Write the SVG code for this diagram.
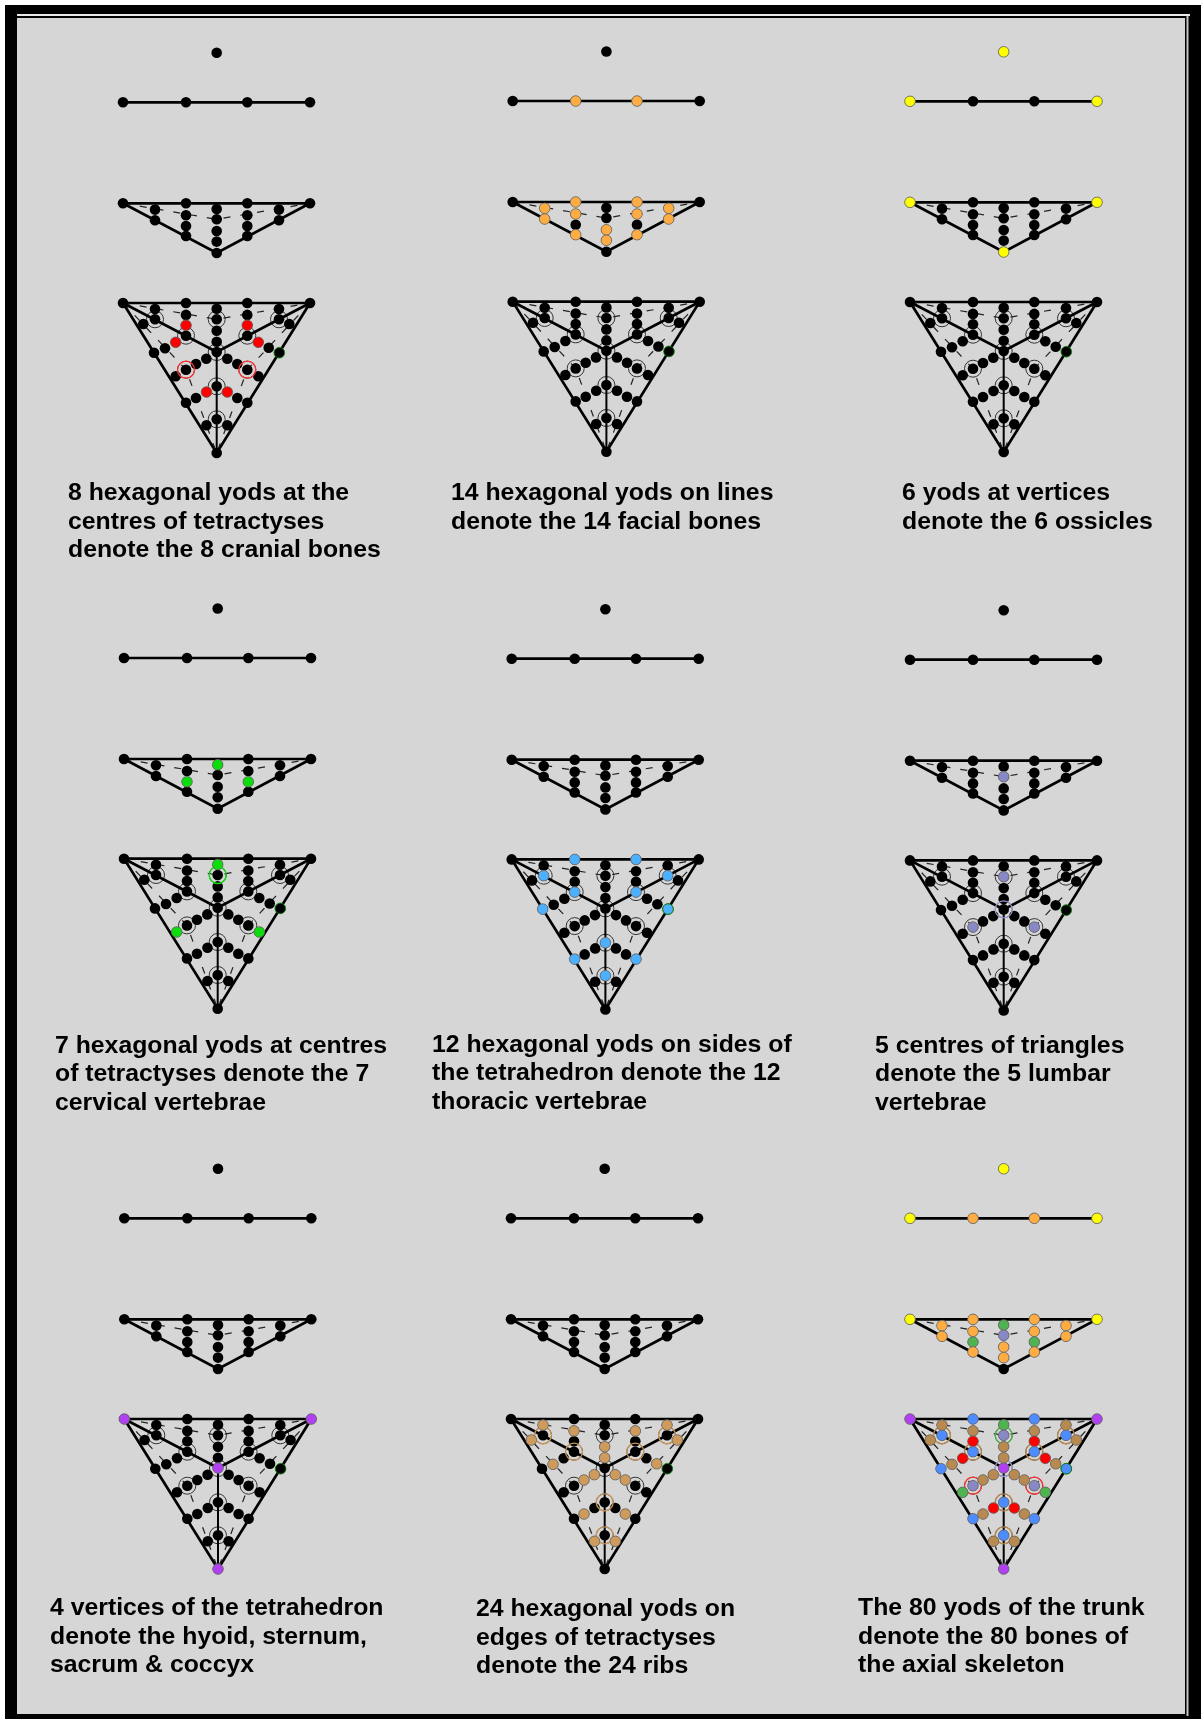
<svg xmlns="http://www.w3.org/2000/svg" width="1201" height="1719" viewBox="0 0 1201 1719">
<style>
.t{font:bold 24.8px "Liberation Sans",Arial,sans-serif;fill:#000}
.sol{fill:none;stroke:#000;stroke-width:2.7}
.thin{fill:none;stroke:#000;stroke-width:2}
.dash{fill:none;stroke:#222;stroke-width:1.2;stroke-dasharray:7 10}
#yods circle{r:5.3px}
#rings circle{r:8.5px}
.c{stroke:#6d6d6d;stroke-width:.8}
.r{fill:#f00}.o{fill:#ffad42}.y{fill:#ff0}.g{fill:#0cdc0c}.g2{fill:#4fb34f}.b{fill:#4db0ff}.b2{fill:#4d8cff}.s{fill:#8888c4}.p{fill:#b040f0}.tn{fill:#cf9b5b}.br{fill:#b98a50}
.rr,.rg,.rg2,.rt,.rb,.rs{fill:none;stroke-width:1.3}
.rr{stroke:#f33}.rg{stroke:#0cdc0c}.rg2{stroke:#4fb34f}.rt{stroke:#c8965a}.rb{stroke:#b98a50}.rs{stroke:#9a9ad0}
</style>
<defs>
<filter id="soft" x="-5%" y="-5%" width="110%" height="110%"><feGaussianBlur stdDeviation="0.45"/></filter>
<g id="connectors">
<path class="sol" d="M0 0H187M0 101H187L93.7 150.7Z"/>
<path class="sol" d="M0 200.7H187L93.7 350.7Z"/>
<path class="sol" d="M0 200.7L93.7 249.7L187 200.7"/>
<path class="thin" d="M93.7 249.7V350.7"/>
<path class="dash" d="M0 101L93.7 117L187 101M0 200.7L93.7 217L187 200.7M0 200.7L63 267.4L93.7 350.7M187 200.7L124.3 267.4L93.7 350.7"/>
</g>
<g id="rings" fill="none" stroke="#333" stroke-width="1">
<circle id="rB1" cx="32" cy="217"/><circle id="rB2" cx="93.7" cy="217"/><circle id="rB3" cx="156" cy="217"/>
<circle id="rF1" cx="63" cy="233.4"/><circle id="rF2" cx="124.3" cy="233.4"/>
<circle id="rK" cx="93.7" cy="249.7"/>
<circle id="rN1" cx="63" cy="267.4"/><circle id="rN2" cx="124.3" cy="267.4"/>
<circle id="rP" cx="93.7" cy="284"/><circle id="rU" cx="93.7" cy="317"/>
</g>
<g id="yods" fill="#000">
<circle id="a" cx="93.7" cy="-49.5"/>
<circle id="l0" cx="0" cy="0"/><circle id="l1" cx="63" cy="0"/><circle id="l2" cx="124.3" cy="0"/><circle id="l3" cx="187" cy="0"/>
<circle id="m0" cx="0" cy="101"/><circle id="m1" cx="63" cy="101"/><circle id="m2" cx="124.3" cy="101"/><circle id="m3" cx="187" cy="101"/>
<circle id="m4" cx="32" cy="107.3"/><circle id="m5" cx="32" cy="118"/>
<circle id="m6" cx="63" cy="113"/><circle id="m7" cx="63" cy="123.7"/><circle id="m8" cx="63" cy="133.7"/>
<circle id="m9" cx="93.7" cy="106.7"/><circle id="m10" cx="93.7" cy="117"/><circle id="m11" cx="93.7" cy="128.7"/><circle id="m12" cx="93.7" cy="139.3"/><circle id="m13" cx="93.7" cy="150.7"/>
<circle id="m14" cx="124.3" cy="113"/><circle id="m15" cx="124.3" cy="123.7"/><circle id="m16" cx="124.3" cy="133.7"/>
<circle id="m17" cx="156" cy="107.3"/><circle id="m18" cx="156" cy="118"/>
<circle id="T0" cx="0" cy="200.7"/><circle id="T1" cx="63" cy="200.7"/><circle id="T2" cx="124.3" cy="200.7"/><circle id="T3" cx="187" cy="200.7"/>
<circle id="A1" cx="32" cy="206.7"/><circle id="A2" cx="63" cy="212.6"/><circle id="A3" cx="93.7" cy="206.5"/><circle id="A4" cx="124.3" cy="212.6"/><circle id="A5" cx="156" cy="206.7"/>
<circle id="B1" cx="32" cy="217"/><circle id="B2" cx="93.7" cy="217"/><circle id="B3" cx="156" cy="217"/>
<circle id="C1" cx="20.3" cy="221.7"/><circle id="C2" cx="166.3" cy="221.7"/>
<circle id="D1" cx="63" cy="223"/><circle id="D2" cx="124.3" cy="223"/>
<circle id="E" cx="93.7" cy="228.4"/>
<circle id="F1" cx="63" cy="233.4"/><circle id="F2" cx="124.3" cy="233.4"/>
<circle id="G1" cx="52.7" cy="240"/><circle id="G2" cx="135.3" cy="240"/>
<circle id="H" cx="93.7" cy="239.4"/>
<circle id="I1" cx="42" cy="246"/><circle id="I2" cx="145.7" cy="245.5"/>
<circle id="J1" cx="31" cy="250.4"/><circle id="J2" cx="156.3" cy="250.4" stroke="#0a7a0a" stroke-width=".9"/>
<circle id="K" cx="93.7" cy="249.7"/>
<circle id="L1" cx="83.3" cy="256.4"/><circle id="L2" cx="104.3" cy="256.4"/>
<circle id="M1" cx="73" cy="261.7"/><circle id="M2" cx="114.3" cy="261.7"/>
<circle id="N1" cx="63" cy="267.4"/><circle id="N2" cx="124.3" cy="267.4"/>
<circle id="O1" cx="52.7" cy="274"/><circle id="O2" cx="135.3" cy="274"/>
<circle id="P" cx="93.7" cy="284"/>
<circle id="Q1" cx="83.5" cy="289.7"/><circle id="Q2" cx="104.3" cy="289.7"/>
<circle id="R1" cx="73" cy="295.7"/><circle id="R2" cx="114.3" cy="295.7"/>
<circle id="S1" cx="63" cy="300.4"/><circle id="S2" cx="124.3" cy="300.4"/>
<circle id="U" cx="93.7" cy="317"/>
<circle id="V1" cx="83.5" cy="323"/><circle id="V2" cx="104.3" cy="323"/>
<circle id="W" cx="93.7" cy="350.7"/>
</g>
<g id="base"><use href="#rings"/><use href="#connectors"/><use href="#yods"/></g>
</defs>
<rect width="1201" height="1719" fill="#fff"/>
<path d="M5 5H1201V1719H5Z" fill="#000"/>
<rect x="17" y="14" width="1173" height="2" fill="#e8e8e8"/>
<rect x="17" y="18" width="1168" height="1696" fill="#d6d6d6"/>
<rect x="1186.5" y="16" width="2" height="1700" fill="#c4c4c4"/>
<g filter="url(#soft)">
<g id="panel-1" transform="translate(123,102.3)"><use href="#base"/>
<use class="rr" href="#rN1"/><use class="rr" href="#rN2"/>
<g class="c"><use class="r" href="#D1"/><use class="r" href="#D2"/><use class="r" href="#G1"/><use class="r" href="#G2"/><use class="r" href="#Q1"/><use class="r" href="#Q2"/></g>
</g>
<g id="panel-2" transform="translate(512.7,101)"><use href="#base"/>
<g class="c"><use class="o" href="#l1"/><use class="o" href="#l2"/><use class="o" href="#m1"/><use class="o" href="#m2"/><use class="o" href="#m4"/><use class="o" href="#m5"/><use class="o" href="#m6"/><use class="o" href="#m8"/><use class="o" href="#m14"/><use class="o" href="#m16"/><use class="o" href="#m17"/><use class="o" href="#m18"/><use class="o" href="#m11"/><use class="o" href="#m12"/></g>
</g>
<g id="panel-3" transform="translate(910,101.3)"><use href="#base"/>
<g class="c"><use class="y" href="#a"/><use class="y" href="#l0"/><use class="y" href="#l3"/><use class="y" href="#m0"/><use class="y" href="#m3"/><use class="y" href="#m13"/></g>
</g>
<g id="panel-4" transform="translate(124,658)"><use href="#base"/>
<use class="rg" href="#rB2"/>
<g class="c"><use class="g" href="#m9"/><use class="g" href="#m7"/><use class="g" href="#m15"/><use class="g" href="#A3"/><use class="g" href="#O1"/><use class="g" href="#O2"/></g>
</g>
<g id="panel-5" transform="translate(511.7,658.7)"><use href="#base"/>
<g class="c"><use class="b" href="#T1"/><use class="b" href="#T2"/><use class="b" href="#B1"/><use class="b" href="#B3"/><use class="b" href="#F1"/><use class="b" href="#F2"/><use class="b" href="#J1"/><use class="b" href="#J2"/><use class="b" href="#S1"/><use class="b" href="#S2"/><use class="b" href="#P"/><use class="b" href="#U"/></g>
</g>
<g id="panel-6" transform="translate(910,659.7)"><use href="#base"/>
<use class="rs" href="#rK"/>
<g class="c"><use class="s" href="#m10"/><use class="s" href="#B2"/><use class="s" href="#N1"/><use class="s" href="#N2"/></g>
</g>
<g id="panel-7" transform="translate(124.3,1218.3)"><use href="#base"/>
<g class="c"><use class="p" href="#T0"/><use class="p" href="#T3"/><use class="p" href="#K"/><use class="p" href="#W"/></g>
</g>
<g id="panel-8" transform="translate(511,1218.3)"><use href="#base"/>
<use class="rt" href="#rB1"/><use class="rt" href="#rB3"/><use class="rt" href="#rF1"/><use class="rt" href="#rF2"/><use class="rt" href="#rP"/><use class="rt" href="#rU"/>
<g class="c"><use class="tn" href="#A1"/><use class="tn" href="#A2"/><use class="tn" href="#A4"/><use class="tn" href="#A5"/><use class="tn" href="#C1"/><use class="tn" href="#C2"/><use class="tn" href="#E"/><use class="tn" href="#H"/><use class="tn" href="#I1"/><use class="tn" href="#I2"/><use class="tn" href="#L1"/><use class="tn" href="#L2"/><use class="tn" href="#M1"/><use class="tn" href="#M2"/><use class="tn" href="#R1"/><use class="tn" href="#R2"/><use class="tn" href="#V1"/><use class="tn" href="#V2"/></g>
</g>
<g id="panel-9" transform="translate(910,1218.3)"><use href="#base"/>
<use class="rb" href="#rB1"/><use class="rb" href="#rB3"/><use class="rb" href="#rF1"/><use class="rb" href="#rF2"/><use class="rb" href="#rP"/><use class="rb" href="#rU"/><use class="rg2" href="#rB2"/><use class="rr" href="#rN1"/><use class="rr" href="#rN2"/><use class="rs" href="#rK"/>
<g class="c">
<use class="y" href="#a"/><use class="y" href="#l0"/><use class="y" href="#l3"/><use class="o" href="#l1"/><use class="o" href="#l2"/>
<use class="y" href="#m0"/><use class="y" href="#m3"/><use class="o" href="#m1"/><use class="o" href="#m2"/><use class="o" href="#m4"/><use class="o" href="#m5"/><use class="o" href="#m6"/><use class="g2" href="#m7"/><use class="o" href="#m8"/><use class="g2" href="#m9"/><use class="s" href="#m10"/><use class="o" href="#m11"/><use class="o" href="#m12"/><use class="o" href="#m14"/><use class="g2" href="#m15"/><use class="o" href="#m16"/><use class="o" href="#m17"/><use class="o" href="#m18"/>
<use class="p" href="#T0"/><use class="p" href="#T3"/><use class="p" href="#K"/><use class="p" href="#W"/>
<use class="b2" href="#T1"/><use class="b2" href="#T2"/><use class="b2" href="#B1"/><use class="b2" href="#B3"/><use class="b2" href="#F1"/><use class="b2" href="#F2"/><use class="b2" href="#J1"/><use class="b2" href="#J2"/><use class="b2" href="#S1"/><use class="b2" href="#S2"/><use class="b2" href="#P"/><use class="b2" href="#U"/>
<use class="br" href="#A1"/><use class="br" href="#A2"/><use class="br" href="#A4"/><use class="br" href="#A5"/><use class="br" href="#C1"/><use class="br" href="#C2"/><use class="br" href="#E"/><use class="br" href="#H"/><use class="br" href="#I1"/><use class="br" href="#I2"/><use class="br" href="#L1"/><use class="br" href="#L2"/><use class="br" href="#M1"/><use class="br" href="#M2"/><use class="br" href="#R1"/><use class="br" href="#R2"/><use class="br" href="#V1"/><use class="br" href="#V2"/>
<use class="g2" href="#A3"/><use class="g2" href="#O1"/><use class="g2" href="#O2"/>
<use class="s" href="#B2"/><use class="s" href="#N1"/><use class="s" href="#N2"/>
<use class="r" href="#D1"/><use class="r" href="#D2"/><use class="r" href="#G1"/><use class="r" href="#G2"/><use class="r" href="#Q1"/><use class="r" href="#Q2"/>
</g>
</g>
<g id="captions">
<text class="t" x="68" y="500">8 hexagonal yods at the</text>
<text class="t" x="68" y="529">centres of tetractyses</text>
<text class="t" x="68" y="557">denote the 8 cranial bones</text>
<text class="t" x="451" y="500">14 hexagonal yods on lines</text>
<text class="t" x="451" y="529">denote the 14 facial bones</text>
<text class="t" x="902" y="500">6 yods at vertices</text>
<text class="t" x="902" y="529">denote the 6 ossicles</text>
<text class="t" x="55" y="1053">7 hexagonal yods at centres</text>
<text class="t" x="55" y="1081">of tetractyses denote the 7</text>
<text class="t" x="55" y="1110">cervical vertebrae</text>
<text class="t" x="432" y="1052">12 hexagonal yods on sides of</text>
<text class="t" x="432" y="1080">the tetrahedron denote the 12</text>
<text class="t" x="432" y="1109">thoracic vertebrae</text>
<text class="t" x="875" y="1053">5 centres of triangles</text>
<text class="t" x="875" y="1081">denote the 5 lumbar</text>
<text class="t" x="875" y="1110">vertebrae</text>
<text class="t" x="50" y="1615">4 vertices of the tetrahedron</text>
<text class="t" x="50" y="1644">denote the hyoid, sternum,</text>
<text class="t" x="50" y="1672">sacrum &amp; coccyx</text>
<text class="t" x="476" y="1616">24 hexagonal yods on</text>
<text class="t" x="476" y="1645">edges of tetractyses</text>
<text class="t" x="476" y="1673">denote the 24 ribs</text>
<text class="t" x="858" y="1615">The 80 yods of the trunk</text>
<text class="t" x="858" y="1644">denote the 80 bones of</text>
<text class="t" x="858" y="1672">the axial skeleton</text>
</g>
</g>
</svg>
